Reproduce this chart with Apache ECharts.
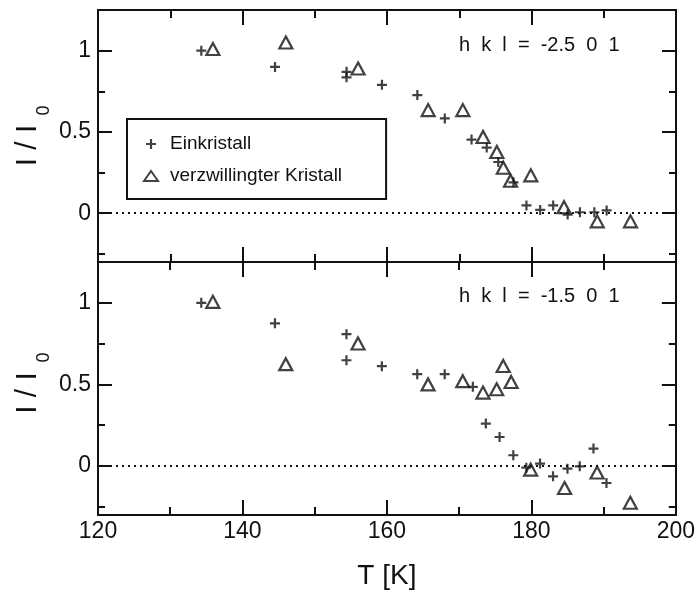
<!DOCTYPE html>
<html><head><meta charset="utf-8">
<script src="https://cdn.jsdelivr.net/npm/echarts@6/dist/echarts.min.js"></script>
<style>html,body{margin:0;padding:0;background:#fff}#c{width:698px;height:596px}</style>
</head><body><div id="c"></div>
<script>
// ---- data ----
const xTicksMajor = [120, 140, 160, 180, 200];
const xTicksMinor = [130, 150, 170, 190];
const yTicksMajor = [0, 0.5, 1];
const yTicksMinor = [-0.25, 0.25, 0.75];
const seriesNames = ['Einkristall', 'verzwillingter Kristall'];
const panelLabels = ['h  k  l  =  -2.5  0  1', 'h  k  l  =  -1.5  0  1'];
const xTitle = 'T [K]';
const yTitleMain = 'I / I';
const yTitleSub = '0';

// top panel (h k l = -2.5 0 1)
const topEinT = [134.3, 144.5, 154.4, 154.4, 159.3, 164.2, 168.0, 171.7, 173.8, 175.4, 177.5, 179.3, 181.2, 183.0, 185.0, 186.7, 188.7, 190.4];
const topEinI = [1.0, 0.90, 0.87, 0.836, 0.79, 0.727, 0.583, 0.453, 0.404, 0.315, 0.19, 0.048, 0.02, 0.048, -0.008, 0.006, 0.006, 0.017];
const topZwT  = [135.9, 146.0, 156.0, 165.7, 170.5, 173.3, 175.2, 176.1, 177.1, 179.9, 184.5, 189.1, 193.7];
const topZwI  = [1.01, 1.05, 0.89, 0.634, 0.634, 0.469, 0.377, 0.28, 0.20, 0.233, 0.037, -0.05, -0.05];

// bottom panel (h k l = -1.5 0 1)
const botEinT = [134.3, 144.5, 154.4, 154.4, 159.3, 164.2, 168.0, 171.9, 173.7, 175.6, 177.5, 179.3, 181.2, 183.0, 185.0, 186.7, 188.6, 190.4];
const botEinI = [1.0, 0.874, 0.808, 0.648, 0.612, 0.563, 0.563, 0.485, 0.26, 0.178, 0.066, -0.01, 0.015, -0.063, -0.016, -0.002, 0.107, -0.104];
const botZwT  = [135.9, 146.0, 156.0, 165.7, 170.5, 173.3, 175.2, 176.1, 177.2, 179.9, 184.6, 189.1, 193.7];
const botZwI  = [1.006, 0.624, 0.751, 0.50, 0.52, 0.45, 0.47, 0.613, 0.515, -0.022, -0.135, -0.04, -0.225];

// ---- chart ----
const INK = '#111';
const FONT = 'Liberation Sans';
const plusPath = 'path://M3.9,0H6.1V3.9H10V6.1H6.1V10H3.9V6.1H0V3.9H3.9Z';
const triPath = 'path://M7,0L14,10L0,10Z';
const xMin = 120, xMax = 200, yMin = -0.3, yMax = 1.25;

function pairs(xs, ys) { return xs.map((x, i) => [x, ys[i]]); }

function xAx(g, pos, vals, len, line, labels) {
  const ax = {
    type: 'value', gridIndex: g, position: pos, min: xMin, max: xMax,
    axisLine: { show: line, onZero: false, lineStyle: { color: INK, width: 2 } },
    axisTick: { show: true, inside: true, length: len, customValues: vals, lineStyle: { color: INK, width: 2 } },
    axisLabel: { show: labels, customValues: vals, margin: 5, fontSize: 23, color: INK, fontFamily: FONT },
    splitLine: { show: false }
  };
  if (labels) {
    ax.name = xTitle; ax.nameLocation = 'middle'; ax.nameGap = 47;
    ax.nameTextStyle = { fontSize: 28, color: INK, fontFamily: FONT };
  }
  return ax;
}
function yAx(g, pos, vals, len, line, labels) {
  return {
    type: 'value', gridIndex: g, position: pos, min: yMin, max: yMax,
    axisLine: { show: line, onZero: false, lineStyle: { color: INK, width: 2 } },
    axisTick: { show: true, inside: true, length: len, customValues: vals, lineStyle: { color: INK, width: 2 } },
    axisLabel: { show: labels, customValues: vals, margin: 7, fontSize: 23, color: INK, fontFamily: FONT },
    splitLine: { show: false }
  };
}

const xAxes = [], yAxes = [];
[0, 1].forEach(g => {
  xAxes.push(xAx(g, 'bottom', xTicksMajor, 15, true, g === 1));
  xAxes.push(xAx(g, 'bottom', xTicksMinor, 8, false, false));
  xAxes.push(xAx(g, 'top', xTicksMajor, 15, true, false));
  xAxes.push(xAx(g, 'top', xTicksMinor, 8, false, false));
  yAxes.push(yAx(g, 'left', yTicksMajor, 14, true, true));
  yAxes.push(yAx(g, 'left', yTicksMinor, 7, false, false));
  yAxes.push(yAx(g, 'right', yTicksMajor, 14, true, false));
  yAxes.push(yAx(g, 'right', yTicksMinor, 7, false, false));
});

const zeroLine = {
  silent: true, symbol: 'none', label: { show: false },
  lineStyle: { type: [2, 4], color: INK, width: 2 },
  emphasis: { disabled: true },
  data: [{ yAxis: 0 }]
};

function plusSeries(g, data, withLine) {
  const s = {
    type: 'scatter', name: seriesNames[0], xAxisIndex: 4 * g, yAxisIndex: 4 * g,
    data: data, symbol: plusPath, symbolSize: 10,
    itemStyle: { color: INK, borderWidth: 0 }, emphasis: { disabled: true }
  };
  if (withLine) s.markLine = zeroLine;
  return s;
}
function triSeries(g, data) {
  return {
    type: 'scatter', name: seriesNames[1], xAxisIndex: 4 * g, yAxisIndex: 4 * g,
    data: data, symbol: 'triangle', symbolSize: [13, 12],
    itemStyle: { color: 'rgba(0,0,0,0)', borderColor: INK, borderWidth: 2.2 },
    emphasis: { disabled: true }
  };
}

const option = {
  animation: false,
  backgroundColor: '#fff',
  textStyle: { fontFamily: FONT },
  grid: [
    { left: 98, right: 22, top: 10, height: 252 },
    { left: 98, right: 22, top: 262, height: 253 }
  ],
  xAxis: xAxes,
  yAxis: yAxes,
  legend: {
    left: 127, top: 119, orient: 'vertical',
    padding: [15, 44, 13, 16], itemWidth: 28, itemHeight: 10, itemGap: 12,
    symbolKeepAspect: true,
    borderColor: INK, borderWidth: 2, backgroundColor: '#fff', selectedMode: false,
    textStyle: { fontSize: 19, lineHeight: 20, color: INK, fontFamily: FONT },
    data: [
      { name: seriesNames[0], icon: plusPath, itemStyle: { color: INK, borderWidth: 0 } },
      { name: seriesNames[1], icon: triPath, itemStyle: { color: 'rgba(0,0,0,0)', borderColor: INK, borderWidth: 2 } }
    ]
  },
  graphic: [
    { type: 'text', x: 459, y: 45.4, style: { text: panelLabels[0], font: '20px "Liberation Sans"', fill: INK, align: 'left', verticalAlign: 'middle' } },
    { type: 'text', x: 459, y: 296.4, style: { text: panelLabels[1], font: '20px "Liberation Sans"', fill: INK, align: 'left', verticalAlign: 'middle' } },
    { type: 'text', x: 27.6, y: 145.5, rotation: Math.PI / 2, style: { text: yTitleMain, font: '30px "Liberation Sans"', fill: INK, align: 'center', verticalAlign: 'middle' } },
    { type: 'text', x: 43.8, y: 110.5, rotation: Math.PI / 2, style: { text: yTitleSub, font: '18px "Liberation Sans"', fill: INK, align: 'center', verticalAlign: 'middle' } },
    { type: 'text', x: 27.6, y: 393, rotation: Math.PI / 2, style: { text: yTitleMain, font: '30px "Liberation Sans"', fill: INK, align: 'center', verticalAlign: 'middle' } },
    { type: 'text', x: 43.8, y: 357.5, rotation: Math.PI / 2, style: { text: yTitleSub, font: '18px "Liberation Sans"', fill: INK, align: 'center', verticalAlign: 'middle' } }
  ],
  series: [
    plusSeries(0, pairs(topEinT, topEinI), true),
    triSeries(0, pairs(topZwT, topZwI)),
    plusSeries(1, pairs(botEinT, botEinI), true),
    triSeries(1, pairs(botZwT, botZwI))
  ]
};

const chart = echarts.init(document.getElementById('c'), null, { renderer: 'canvas' });
chart.setOption(option);
</script>
</body></html>
